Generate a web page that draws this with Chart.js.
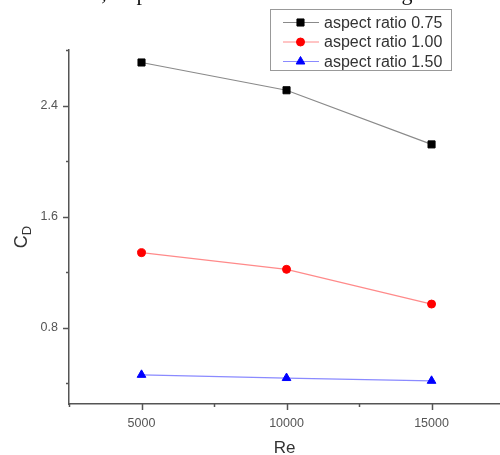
<!DOCTYPE html>
<html>
<head>
<meta charset="utf-8">
<script src="https://cdn.jsdelivr.net/npm/chart.js@4.4.0/dist/chart.umd.min.js"></script>
<style>
  html, body { margin: 0; padding: 0; background: #fff; overflow: hidden; }
  #wrap { width: 500px; height: 455px; }
</style>
</head>
<body>
<div id="wrap"><canvas id="chart"></canvas></div>
<script>
// data
var reValues = [5000, 10000, 15000];
var cdRatio075 = [2.71, 2.51, 2.12];
var cdRatio100 = [1.34, 1.22, 0.97];
var cdRatio150 = [0.46, 0.437, 0.417];
var seriesLabels = ['aspect ratio 0.75', 'aspect ratio 1.00', 'aspect ratio 1.50'];

var xTicks = [2500, 5000, 7500, 10000, 12500, 15000];
var xLabels = [5000, 10000, 15000];
var yTicks = [0.4, 0.8, 1.2, 1.6, 2.0, 2.4, 2.8];
var yLabels = [0.8, 1.6, 2.4];

function pts(ys) {
  return reValues.map(function(x, i){ return {x: x, y: ys[i]}; });
}

var axisColor = '#555';
var sans = '"Liberation Sans", Arial, sans-serif';

// minor/major tick marks outside the axes, the C_D title, and the cut caption line above
var tickMarks = {
  id: 'tickMarks',
  afterDraw: function(chart) {
    var ctx = chart.ctx;
    var xs = chart.scales.x, ys = chart.scales.y;
    var area = chart.chartArea;
    ctx.save();
    ctx.strokeStyle = axisColor;
    ctx.lineWidth = 1.5;
    xTicks.forEach(function(v){
      var px = Math.round(xs.getPixelForValue(v)) + 0.5;
      var len = xLabels.indexOf(v) >= 0 ? 6 : 3;
      ctx.beginPath();
      ctx.moveTo(px, area.bottom);
      ctx.lineTo(px, area.bottom + len);
      ctx.stroke();
    });
    yTicks.forEach(function(v){
      var py = Math.round(ys.getPixelForValue(v)) + 0.5;
      var len = yLabels.indexOf(v) >= 0 ? 6 : 3;
      ctx.beginPath();
      ctx.moveTo(area.left, py);
      ctx.lineTo(area.left - len, py);
      ctx.stroke();
    });

    // bits of the page text above the figure, cropped off at the top
    ctx.fillStyle = '#111';
    ctx.font = '22px "Liberation Serif", "Times New Roman", serif';
    ctx.textAlign = 'center';
    ctx.textBaseline = 'alphabetic';
    ctx.fillText(',', 104, 0);
    ctx.fillText('p', 142, 0);
    ctx.fillText('g', 407, 0);

    // y title C_D
    ctx.fillStyle = '#333';
    ctx.translate(22, 237);
    ctx.rotate(-Math.PI / 2);
    ctx.textBaseline = 'middle';
    ctx.textAlign = 'left';
    ctx.font = '18px ' + sans;
    var cw = ctx.measureText('C').width;
    ctx.font = '13px ' + sans;
    var dw = ctx.measureText('D').width;
    var start = -(cw + dw) / 2;
    ctx.font = '18px ' + sans;
    ctx.fillText('C', start, 0);
    ctx.font = '13px ' + sans;
    ctx.fillText('D', start + cw, 5);
    ctx.restore();
  }
};

// boxed legend with line + marker samples
var boxLegend = {
  id: 'boxLegend',
  afterDraw: function(chart) {
    var ctx = chart.ctx;
    var left = 270.5, top = 9.5, w = 181, h = 61;
    ctx.save();
    ctx.fillStyle = '#fff';
    ctx.fillRect(left, top, w, h);
    ctx.strokeStyle = '#999';
    ctx.lineWidth = 1;
    ctx.strokeRect(left, top, w, h);
    var rows = [22.5, 42, 61.5];
    chart.data.datasets.forEach(function(ds, i){
      var y = rows[i];
      ctx.strokeStyle = ds.borderColor;
      ctx.lineWidth = 1;
      ctx.beginPath();
      ctx.moveTo(283, y);
      ctx.lineTo(319, y);
      ctx.stroke();
      ctx.fillStyle = ds.pointBackgroundColor;
      ctx.strokeStyle = ds.pointBorderColor;
      Chart.helpers.drawPoint(ctx, {
        pointStyle: ds.pointStyle,
        radius: ds.pointRadius,
        borderWidth: 1
      }, 300.5, y);
      ctx.fillStyle = '#333';
      ctx.font = '16px ' + sans;
      ctx.textAlign = 'left';
      ctx.textBaseline = 'middle';
      ctx.fillText(ds.label, 324, y + 1);
    });
    ctx.restore();
  }
};

function series(label, ys, line, mark, style, r) {
  return {
    label: label,
    data: pts(ys),
    borderColor: line,
    borderWidth: 1.2,
    pointStyle: style,
    pointRadius: r,
    pointHoverRadius: r,
    pointBackgroundColor: mark,
    pointBorderColor: mark,
    pointBorderWidth: 1,
    tension: 0,
    fill: false
  };
}

var ctx = document.getElementById('chart');
var chart = new Chart(ctx, {
  type: 'line',
  data: {
    datasets: [
      series(seriesLabels[0], cdRatio075, '#8a8a8a', '#000', 'rect', 5),
      series(seriesLabels[1], cdRatio100, '#ff8a8a', '#ff0000', 'circle', 4),
      series(seriesLabels[2], cdRatio150, '#8a8aff', '#0000ff', 'triangle', 5)
    ]
  },
  options: {
    responsive: true,
    maintainAspectRatio: false,
    animation: false,
    layout: { autoPadding: false, padding: { top: 50, right: 0, left: 0, bottom: 0 } },
    plugins: {
      legend: { display: false },
      tooltip: { enabled: false }
    },
    scales: {
      x: {
        type: 'linear',
        min: 2500,
        max: 17360,
        afterBuildTicks: function(s){ s.ticks = xTicks.map(function(v){ return {value: v}; }); },
        afterFit: function(s){ s.height = 51; s.paddingLeft = 0; s.paddingRight = 0; },
        grid: { display: false, drawTicks: false },
        border: { display: true, color: axisColor, width: 1.5 },
        ticks: {
          padding: 12,
          color: '#555',
          maxRotation: 0,
          autoSkip: false,
          font: { family: sans, size: 12.5 },
          callback: function(v){ return xLabels.indexOf(v) >= 0 ? String(v) : ''; }
        },
        title: {
          display: true,
          text: 'Re',
          color: '#333',
          padding: { top: 4, bottom: -4 },
          font: { family: sans, size: 17 }
        }
      },
      y: {
        type: 'linear',
        min: 0.25,
        max: 2.8,
        afterBuildTicks: function(s){ s.ticks = yTicks.map(function(v){ return {value: v}; }); },
        afterFit: function(s){ s.width = 69; s.paddingTop = 0; s.paddingBottom = 0; },
        grid: { display: false, drawTicks: false },
        border: { display: true, color: axisColor, width: 1.5 },
        ticks: {
          padding: 11,
          color: '#555',
          autoSkip: false,
          font: { family: sans, size: 12.5 },
          callback: function(v){ return yLabels.indexOf(v) >= 0 ? v.toFixed(1) : ''; }
        }
      }
    }
  },
  plugins: [tickMarks, boxLegend]
});
</script>
</body>
</html>
